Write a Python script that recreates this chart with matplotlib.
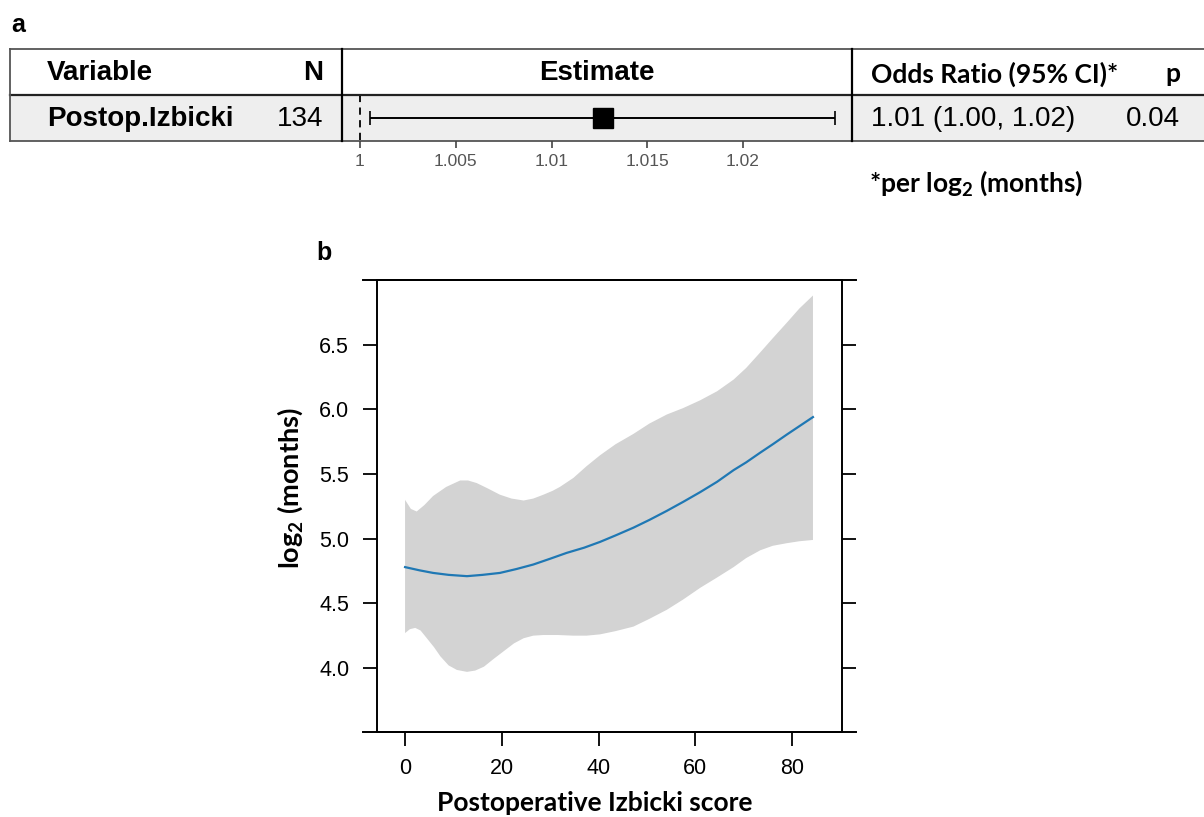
import numpy as np
import matplotlib
matplotlib.use('Agg')
import matplotlib.pyplot as plt
from matplotlib.patches import Rectangle
from matplotlib.lines import Line2D

plt.rcParams['font.family'] = ['Liberation Sans', 'DejaVu Sans']
plt.rcParams['mathtext.default'] = 'regular'

# panel a: one row of the forest table
variable = 'Postop.Izbicki'
n_obs = 134
odds_ratio = 1.0127
ci_low = 1.0005
ci_high = 1.0248
or_text = '1.01 (1.00, 1.02)'
p_text = '0.04'
est_ticks = [1, 1.005, 1.01, 1.015, 1.02]
est_ticklabels = ['1', '1.005', '1.01', '1.015', '1.02']

# panel b: smooth fit with confidence band
fit_x = [0, 3, 5.8, 9, 12.8, 16, 19.6, 23, 26.5, 30, 33.4, 37, 40.3, 43.5, 47.2, 50.5,
         54.1, 57.5, 61, 64.5, 67.9, 70.5, 73.4, 76, 78.9, 81.5, 84.3]
fit_y = [4.78, 4.755, 4.735, 4.72, 4.71, 4.72, 4.735, 4.765, 4.80, 4.845, 4.89, 4.93,
         4.975, 5.025, 5.085, 5.145, 5.215, 5.285, 5.36, 5.44, 5.53, 5.59, 5.665, 5.73,
         5.805, 5.87, 5.94]
upper_x = [0, 1.2, 2.4, 4, 5.8, 8.5, 11.4, 13, 14.8, 17, 19.6, 22, 24.5, 26.5, 28.6,
           30.5, 32, 34.8, 37.5, 40.3, 43.5, 47.2, 50.5, 54.1, 57.5, 61, 64.5, 67.9,
           70.5, 73.4, 76, 78.9, 81.5, 84.3]
upper_y = [5.30, 5.23, 5.21, 5.26, 5.33, 5.40, 5.45, 5.45, 5.43, 5.39, 5.34, 5.31,
           5.295, 5.31, 5.34, 5.37, 5.40, 5.47, 5.56, 5.645, 5.73, 5.81, 5.89, 5.96,
           6.01, 6.07, 6.14, 6.23, 6.32, 6.44, 6.55, 6.67, 6.78, 6.88]
lower_x = [0, 1, 2.1, 3.2, 4.5, 6, 7.3, 9, 10.7, 12.8, 14.5, 16.3, 18.3, 20.4, 22.5,
           24.5, 26.5, 28.6, 31.5, 34.8, 37.5, 40.3, 43.5, 47.2, 50.5, 54.1, 57.5, 61,
           64.5, 67.9, 70.5, 73.4, 76, 78.9, 81.5, 84.3]
lower_y = [4.27, 4.30, 4.31, 4.29, 4.23, 4.16, 4.09, 4.02, 3.985, 3.97, 3.98, 4.01,
           4.07, 4.13, 4.19, 4.23, 4.25, 4.255, 4.255, 4.25, 4.25, 4.26, 4.285, 4.32,
           4.38, 4.45, 4.53, 4.62, 4.70, 4.78, 4.85, 4.91, 4.945, 4.965, 4.98, 4.99]
y_ticks = [4.0, 4.5, 5.0, 5.5, 6.0, 6.5]
x_ticks = [0, 20, 40, 60, 80]

W, H = 1204, 817
fig = plt.figure(figsize=(W / 100, H / 100), dpi=100)

# table frame drawn in pixel units
bg = fig.add_axes([0, 0, 1, 1])
bg.set_xlim(0, W)
bg.set_ylim(H, 0)
bg.axis('off')

top, mid, bot = 49, 95, 141
bg.add_patch(Rectangle((10, mid), W - 10, bot - mid, facecolor='#eeeeee', edgecolor='none'))
bg.plot([10, W], [top, top], color='#555555', lw=1.3)
bg.plot([10, W], [mid, mid], color='#222222', lw=1.6)
bg.plot([10, W], [bot, bot], color='#555555', lw=1.3)
bg.plot([10, 10], [top, bot], color='#555555', lw=1.3)
for xv in (342, 852):
    bg.plot([xv, xv], [top, bot], color='black', lw=1.6)

bold_sans = dict(fontsize=20, fontweight='bold', va='center')
calibri = ['Lato', 'DejaVu Sans']
bg.text(47, 73, 'Variable', ha='left', **bold_sans)
bg.text(323, 73, 'N', ha='right', **bold_sans)
bg.text(597, 73, 'Estimate', ha='center', **bold_sans)
bg.text(871, 74, 'Odds Ratio (95% CI)*', ha='left', va='center', fontsize=19,
        fontweight='bold', family=calibri)
bg.text(1173, 74, 'p', ha='center', va='center', fontsize=19, fontweight='bold', family=calibri)

bg.text(47, 119, variable, ha='left', **bold_sans)
bg.text(323, 119, str(n_obs), ha='right', va='center', fontsize=20)
bg.text(871, 119, or_text, ha='left', va='center', fontsize=20)
bg.text(1180, 119, p_text, ha='right', va='center', fontsize=20)
bg.text(869, 183, '*per log$_2$ (months)', ha='left', va='center', fontsize=19,
        fontweight='bold', family=calibri)

bg.text(11, 25, 'a', ha='left', va='center', fontsize=18, fontweight='bold')
bg.text(316, 253, 'b', ha='left', va='center', fontsize=18, fontweight='bold')

# estimate column
ax1 = fig.add_axes([342 / W, 1 - bot / H, 510 / W, (bot - mid) / H])
ax1.patch.set_alpha(0)
ax1.set_xlim(1 - 18 / 19150, 1 + 492 / 19150)
ax1.set_ylim(-1, 1)
for s in ax1.spines.values():
    s.set_visible(False)
ax1.set_yticks([])
ax1.set_xticks(est_ticks)
ax1.set_xticklabels(est_ticklabels)
ax1.tick_params(axis='x', length=5, width=1.2, color='#444444', labelcolor='#555555',
                labelsize=12.5, pad=4)
ax1.axvline(1, ymin=0.03, ymax=0.97, color='black', lw=1.3, ls=(0, (4, 3)))
ax1.errorbar([odds_ratio], [0], xerr=[[odds_ratio - ci_low], [ci_high - odds_ratio]],
             fmt='none', ecolor='black', elinewidth=1.4, capsize=5, capthick=1.2)
ax1.plot([odds_ratio], [0], 's', ms=14.5, color='black')

# smooth fit panel
ax2 = fig.add_axes([377 / W, 1 - 732 / H, 465 / W, 452 / H])
band_x = np.concatenate([upper_x, lower_x[::-1]])
band_y = np.concatenate([upper_y, lower_y[::-1]])
ax2.fill(band_x, band_y, color='#d3d3d3', lw=0)
ax2.plot(fit_x, fit_y, color='#1f78b4', lw=1.6)
ax2.set_xlim(-5.8, 90.3)
ax2.set_ylim(3.505, 7.0)
ax2.set_yticks(y_ticks)
ax2.set_yticklabels(['%.1f' % v for v in y_ticks])
ax2.set_xticks(x_ticks)
ax2.tick_params(axis='y', left=True, right=True, direction='out', length=10, width=1.3,
                labelsize=15.5, pad=10)
ax2.tick_params(axis='x', bottom=True, top=False, direction='out', length=10, width=1.3,
                labelsize=15.5, pad=9)
for s in ax2.spines.values():
    s.set_linewidth(1.4)
ext = 14 / 465
for yv in (0, 1):
    ax2.add_line(Line2D([-ext, 1 + ext], [yv, yv], transform=ax2.transAxes,
                        color='black', lw=1.4, clip_on=False))

ax2.set_ylabel('log$_2$ (months)', fontsize=19.5, fontweight='bold', family=calibri,
               va='center')
ax2.yaxis.set_label_coords(-0.187, 0.54)
ax2.set_xlabel('Postoperative Izbicki score', fontsize=19, fontweight='bold', family=calibri,
               va='center')
ax2.xaxis.set_label_coords(0.469, -0.157)

fig.savefig('out.png', dpi=100)
